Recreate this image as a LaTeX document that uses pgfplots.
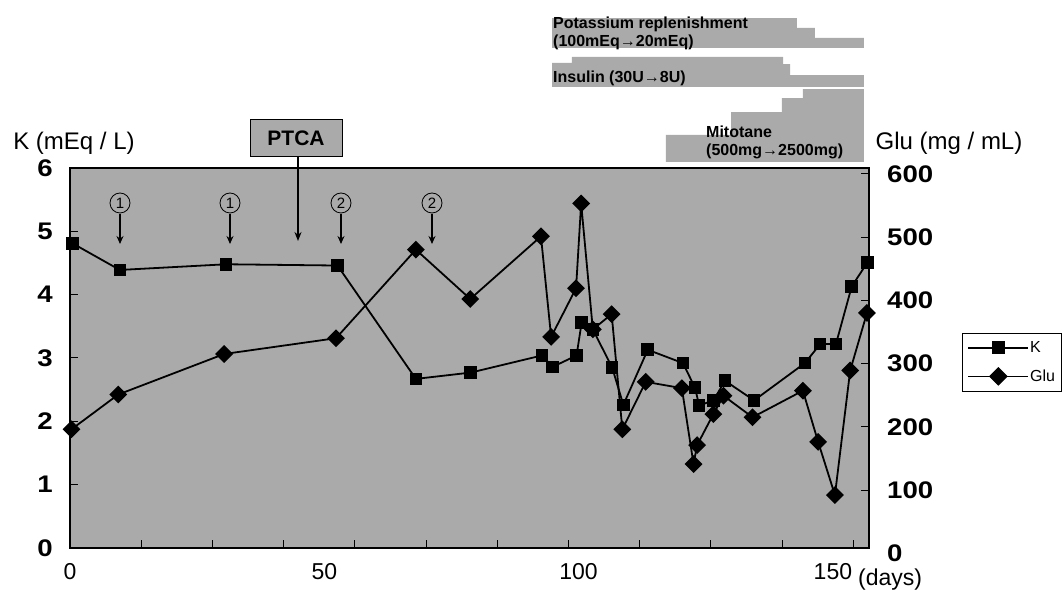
\documentclass[border=0pt]{standalone}
\usepackage{fontspec}
\setmainfont{Liberation Sans}
\newfontfamily\widefont[FakeStretch=1.15]{Liberation Sans}
\usepackage{pgfplots}
\pgfplotsset{compat=1.18}
\usetikzlibrary{arrows.meta}
\definecolor{bg}{RGB}{170,170,170}
\newcommand{\tickfont}{\widefont\bfseries\fontsize{24}{24}\selectfont}
\newcommand{\xfont}{\fontsize{23}{23}\selectfont}

\begin{document}
\begin{tikzpicture}[x=1pt,y=1pt]
\useasboundingbox (0,0) rectangle (1062,589);

% ---------- Glu axis (right) ----------
\begin{axis}[
  at={(70pt,41pt)}, anchor=south west, scale only axis,
  width=799pt, height=380pt,
  xmin=0, xmax=157.1, ymin=8.3, ymax=609.1,
  axis background/.style={fill=bg},
  axis line style={line width=1.5pt},
  tick align=inside, major tick length=8pt,
  tick style={line width=1pt, black},
  xtick={14,28,...,154}, xticklabels={},
  xtick pos=left,
  extra x ticks={0,50,100,150},
  extra x tick labels={0,50,100,150},
  extra x tick style={major tick length=0pt},
  xticklabel style={font=\xfont, inner sep=0pt, yshift=-15pt},
  ytick={100,200,...,600},
  ytick pos=right, yticklabel pos=right,
  yticklabel style={font=\tickfont, inner sep=0pt, anchor=west, xshift=18pt},
  /pgf/number format/assume math mode=true,
  clip=false,
]
\addplot[black, line width=1.8pt, mark=square*, mark size=5.4pt,
  mark options={rotate=45, solid}] coordinates {
  (0.3,196) (9.5,251) (30.3,315) (52.3,340) (68.0,480) (78.7,402)
  (92.6,501) (94.6,342) (99.5,419) (100.5,553) (102.8,354) (106.5,378)
  (108.6,196) (113.2,271) (120.3,261) (122.6,141) (123.3,171) (126.5,220)
  (128.5,249) (134.2,215) (144.1,257) (147.1,176) (150.4,92) (153.4,289)
  (156.7,380)};
\node[anchor=west, inner sep=0pt, font=\tickfont, xshift=18pt]
  at (axis cs:157.1,0) {0};
\end{axis}

% ---------- K axis (left) ----------
\begin{axis}[
  at={(70pt,41pt)}, anchor=south west, scale only axis,
  width=799pt, height=380pt,
  xmin=0, xmax=157.1, ymin=0, ymax=6,
  hide x axis,
  axis y line*=left,
  axis line style={line width=1.5pt},
  tick align=inside, major tick length=8pt,
  tick style={line width=1pt, black},
  ytick={0,1,...,6},
  yticklabel style={font=\tickfont, inner sep=0pt, anchor=east, xshift=-17pt},
  /pgf/number format/assume math mode=true,
  clip=false,
  legend style={at={(1.1164,0.5658)}, anchor=north west, draw=black,
    line width=0.8pt, fill=white, font=\fontsize{16}{16}\selectfont,
    inner xsep=5pt, inner ysep=7pt, row sep=13pt,
    nodes={inner sep=1pt}},
  legend cell align=left,
  legend image code/.code={\draw[mark repeat=2, mark phase=2, #1]
    plot coordinates {(0pt,0pt) (30pt,0pt) (60pt,0pt)};},
]
% treatment bands (drawn above the plot area)
\addplot[fill=bg, draw=none, forget plot] coordinates {
  (94.77,8.368) (142.94,8.368) (142.94,8.211) (146.48,8.211)
  (146.48,8.053) (156.11,8.053) (156.11,7.895) (94.77,7.895)} -- cycle;
\addplot[fill=bg, draw=none, forget plot] coordinates {
  (94.77,7.658) (98.70,7.658) (98.70,7.753) (140.19,7.753)
  (140.19,7.642) (141.57,7.642) (141.57,7.468) (156.11,7.468)
  (156.11,7.279) (94.77,7.279)} -- cycle;
\addplot[fill=bg, draw=none, forget plot] coordinates {
  (117.18,6.095) (117.18,6.521) (129.97,6.521) (129.97,6.884)
  (139.99,6.884) (139.99,7.105) (144.12,7.105) (144.12,7.247)
  (156.11,7.247) (156.11,6.095)} -- cycle;

\addplot[black, line width=1.8pt, mark=square*, mark size=5.4pt,
  mark options={solid}] coordinates {
  (0.5,4.81) (9.8,4.39) (30.7,4.48) (52.6,4.46) (68.0,2.67) (78.8,2.77)
  (92.8,3.04) (94.9,2.86) (99.6,3.04) (100.6,3.56) (102.8,3.45) (106.6,2.85)
  (108.8,2.26) (113.6,3.13) (120.5,2.92) (122.9,2.53) (123.7,2.25) (126.5,2.33)
  (128.8,2.64) (134.5,2.33) (144.5,2.92) (147.5,3.22) (150.6,3.22) (153.7,4.13)
  (156.8,4.51)};
\addlegendentry{K}
\addlegendimage{black, line width=1.2pt, mark=square*, mark size=6pt,
  mark options={rotate=45, solid}}
\addlegendentry{Glu}
\end{axis}

% ---------- annotations (pixel frame: x = px, y = 589 - py) ----------
\node[font=\fontsize{24}{24}\selectfont, inner sep=0pt] at (74,446) {K (mEq / L)};
\node[font=\fontsize{24}{24}\selectfont, inner sep=0pt] at (949,446) {Glu (mg / mL)};
\node[font=\xfont, inner sep=0pt, anchor=base west] at (858,4) {(days)};

% PTCA
\draw[line width=1.5pt, -{Stealth[length=9pt,width=7pt]}] (298,432) -- (298,348);
\node[draw=black, line width=1pt, fill=bg, minimum width=92pt, minimum height=37pt,
  inner sep=0pt, font=\bfseries\fontsize{21}{21}\selectfont] at (296,450.5) {PTCA};

% circled numbers and arrows
\foreach \xx/\nn in {120/1, 230/1, 341/2, 432/2}{
  \node[draw=black, circle, line width=0.8pt, minimum size=20pt, inner sep=0pt,
    font=\fontsize{15}{15}\selectfont] at (\xx,386) {\nn};
  \draw[line width=1.5pt, -{Stealth[length=8pt,width=7pt]}] (\xx,375) -- (\xx,345);
}

% band texts
\node[anchor=north west, inner sep=0pt, align=left,
  font=\bfseries\fontsize{16}{18}\selectfont] at (553,572)
  {Potassium replenishment\\(100mEq→20mEq)};
\node[anchor=north west, inner sep=0pt, align=left,
  font=\bfseries\fontsize{16}{18}\selectfont] at (553,518)
  {Insulin (30U→8U)};
\node[anchor=north west, inner sep=0pt, align=left,
  font=\bfseries\fontsize{16}{18}\selectfont] at (706,463)
  {Mitotane\\(500mg→2500mg)};
\end{tikzpicture}
\end{document}
